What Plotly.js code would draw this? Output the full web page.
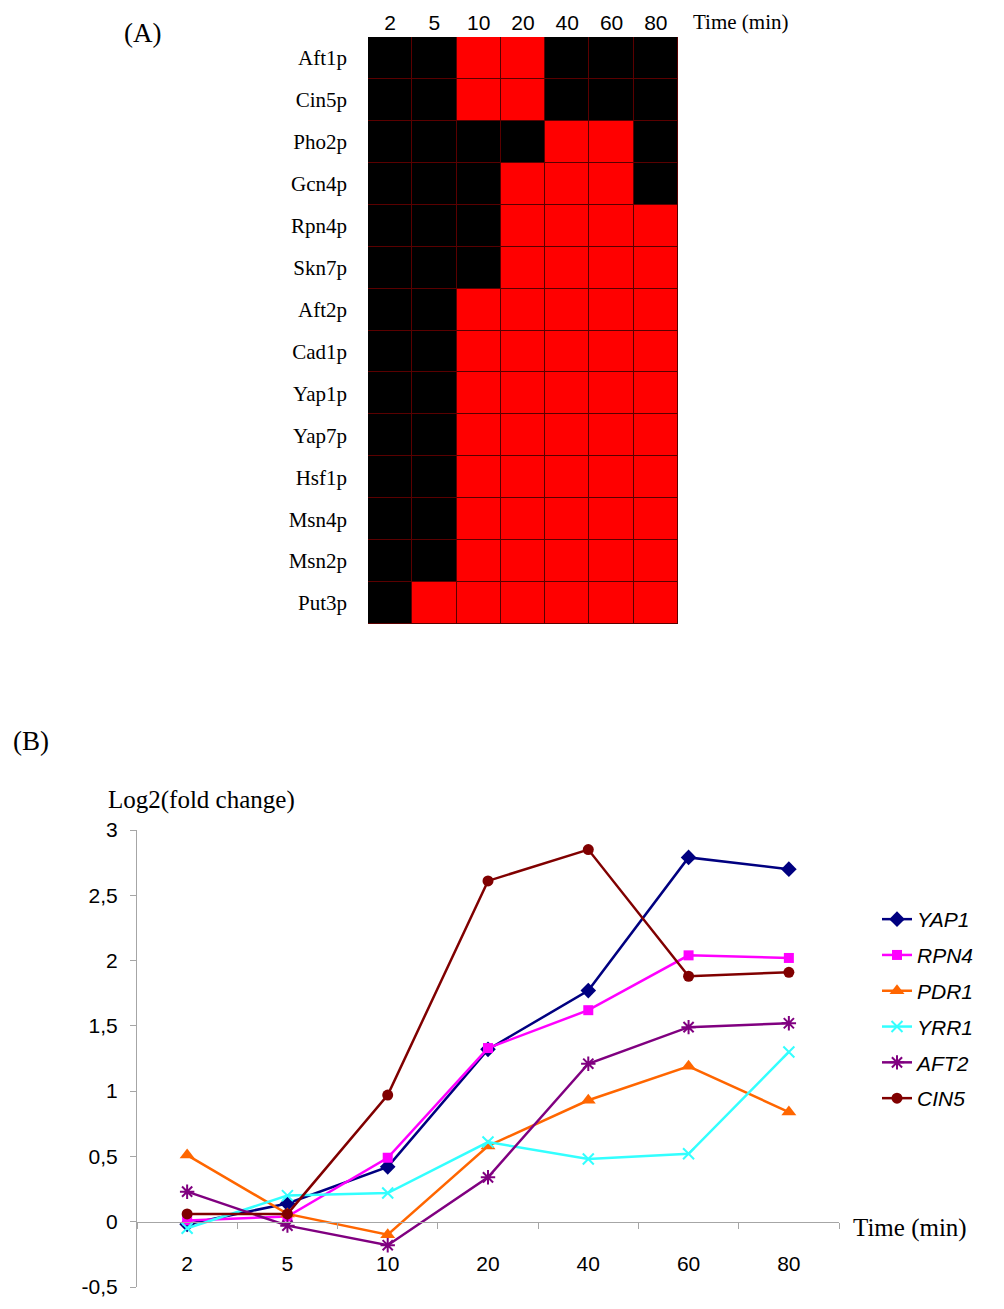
<!DOCTYPE html>
<html>
<head>
<meta charset="utf-8">
<script src="https://cdn.plot.ly/plotly-3.0.1.min.js"></script>
<style>
html,body{margin:0;padding:0;background:#fff;}
#chart{width:1004px;height:1309px;}
</style>
</head>
<body>
<div id="chart"></div>
<script>
// ---------- Panel A data ----------
const timeLabels = ["2", "5", "10", "20", "40", "60", "80"];
const proteins = ["Aft1p","Cin5p","Pho2p","Gcn4p","Rpn4p","Skn7p","Aft2p","Cad1p","Yap1p","Yap7p","Hsf1p","Msn4p","Msn2p","Put3p"];
// 1 = red (activated), 0 = black
const activation = [
  [0,0,1,1,0,0,0],
  [0,0,1,1,0,0,0],
  [0,0,0,0,1,1,0],
  [0,0,0,1,1,1,0],
  [0,0,0,1,1,1,1],
  [0,0,0,1,1,1,1],
  [0,0,1,1,1,1,1],
  [0,0,1,1,1,1,1],
  [0,0,1,1,1,1,1],
  [0,0,1,1,1,1,1],
  [0,0,1,1,1,1,1],
  [0,0,1,1,1,1,1],
  [0,0,1,1,1,1,1],
  [0,1,1,1,1,1,1]
];

// ---------- Panel B data ----------
const timePoints = ["2", "5", "10", "20", "40", "60", "80"];
const YAP1 = [-0.02, 0.14, 0.42, 1.32, 1.77, 2.79, 2.70];
const RPN4 = [0.01, 0.04, 0.49, 1.33, 1.62, 2.04, 2.02];
const PDR1 = [0.51, 0.06, -0.10, 0.58, 0.93, 1.19, 0.84];
const YRR1 = [-0.05, 0.20, 0.22, 0.61, 0.48, 0.52, 1.30];
const AFT2 = [0.23, -0.03, -0.18, 0.34, 1.21, 1.49, 1.52];
const CIN5 = [0.06, 0.06, 0.97, 2.61, 2.85, 1.88, 1.91];
const yTickVals = [-0.5, 0, 0.5, 1, 1.5, 2, 2.5, 3];
const yTickText = ["-0,5", "0", "0,5", "1", "1,5", "2", "2,5", "3"];

const W = 1004, H = 1309;
const px = v => v / W;
const py = v => 1 - v / H;

const serif = "'Liberation Serif', 'Times New Roman', serif";
const sans = "'Liberation Sans', Arial, sans-serif";

const heat = {
  type: 'heatmap',
  x: timeLabels,
  y: proteins,
  z: activation,
  xaxis: 'x2', yaxis: 'y2',
  colorscale: [[0, '#000000'], [1, '#ff0000']],
  zmin: 0, zmax: 1,
  showscale: false,
  xgap: 1, ygap: 1,
  hoverinfo: 'skip'
};

function series(name, y, color, symbol, size, thin) {
  return {
    type: 'scatter', mode: 'lines+markers',
    name: name, x: timePoints, y: y,
    xaxis: 'x', yaxis: 'y',
    legendgroup: name,
    line: {color: color, width: 2.5},
    marker: {symbol: symbol, size: size, color: color,
             line: thin ? {color: color, width: 2} : {width: 0}}
  };
}

const traces = [
  heat,
  series('YAP1', YAP1, '#000080', 'diamond', 12, false),
  series('RPN4', RPN4, '#ff00ff', 'square', 10, false),
  series('PDR1', PDR1, '#ff6600', 'triangle-up', 13, false),
  series('YRR1', YRR1, '#33ffff', 'x-thin', 11, true),
  series('AFT2', AFT2, '#800080', 'asterisk', 12, true),
  series('CIN5', CIN5, '#800000', 'circle', 11, false)
];

const yDom = [py(1287), py(830)];
const zeroPos = yDom[0] + (0.5 / 3.5) * (yDom[1] - yDom[0]);

const layout = {
  width: W, height: H,
  margin: {l: 0, r: 0, t: 0, b: 0},
  paper_bgcolor: '#ffffff',
  plot_bgcolor: '#ffffff',
  showlegend: true,
  legend: {
    x: px(877), y: py(899), xanchor: 'left', yanchor: 'top',
    font: {family: sans, size: 21, color: '#000', style: 'italic'},
    tracegroupgap: 5.5,
    bgcolor: 'rgba(0,0,0,0)'
  },
  // Panel B axes
  xaxis: {
    type: 'category',
    domain: [px(137), px(839)],
    anchor: 'free', position: zeroPos,
    range: [-0.5, 6.5],
    showline: true, linecolor: '#a6a6a6', linewidth: 1,
    ticks: 'outside', ticklen: 6, tickcolor: '#a6a6a6', tickson: 'boundaries',
    ticklabelstandoff: 23,
    tickfont: {family: sans, size: 21, color: '#000'},
    showgrid: false, zeroline: false, fixedrange: true
  },
  yaxis: {
    domain: yDom,
    anchor: 'x',
    range: [-0.5, 3],
    showline: true, linecolor: '#a6a6a6', linewidth: 1,
    ticks: 'outside', ticklen: 6, tickcolor: '#a6a6a6',
    tickmode: 'array', tickvals: yTickVals, ticktext: yTickText,
    ticklabelstandoff: 8,
    tickfont: {family: sans, size: 21, color: '#000'},
    showgrid: false, zeroline: false, fixedrange: true
  },
  // Panel A axes
  xaxis2: {
    type: 'category',
    domain: [px(368), px(678)],
    anchor: 'y2', side: 'top',
    showline: false, ticks: '', showgrid: false, zeroline: false,
    ticklabelstandoff: 2,
    tickfont: {family: sans, size: 21, color: '#000'},
    fixedrange: true
  },
  yaxis2: {
    type: 'category',
    domain: [py(624), py(37)],
    anchor: 'x2',
    autorange: 'reversed',
    showline: false, ticks: '', showgrid: false, zeroline: false,
    ticklabelstandoff: 20,
    tickfont: {family: serif, size: 21, color: '#000'},
    fixedrange: true
  },
  shapes: [
    {type: 'rect', xref: 'x2 domain', yref: 'y2 domain', x0: 0, x1: 1, y0: 0, y1: 1,
     fillcolor: '#5a0000', line: {width: 0}, layer: 'below'}
  ],
  annotations: [
    {text: '(A)', xref: 'paper', yref: 'paper', x: px(142), y: py(33), showarrow: false,
     xanchor: 'center', yanchor: 'middle', font: {family: serif, size: 27, color: '#000'}},
    {text: 'Time (min)', xref: 'paper', yref: 'paper', x: px(691), y: py(22), showarrow: false,
     xanchor: 'left', yanchor: 'middle', font: {family: serif, size: 21, color: '#000'}},
    {text: '(B)', xref: 'paper', yref: 'paper', x: px(31), y: py(741), showarrow: false,
     xanchor: 'center', yanchor: 'middle', font: {family: serif, size: 27, color: '#000'}},
    {text: 'Log2(fold change)', xref: 'paper', yref: 'paper', x: px(106), y: py(800), showarrow: false,
     xanchor: 'left', yanchor: 'middle', font: {family: serif, size: 25, color: '#000'}},
    {text: 'Time (min)', xref: 'paper', yref: 'paper', x: px(851), y: py(1228), showarrow: false,
     xanchor: 'left', yanchor: 'middle', font: {family: serif, size: 25, color: '#000'}}
  ]
};

Plotly.newPlot('chart', traces, layout, {displayModeBar: false, staticPlot: true});
</script>
</body>
</html>
